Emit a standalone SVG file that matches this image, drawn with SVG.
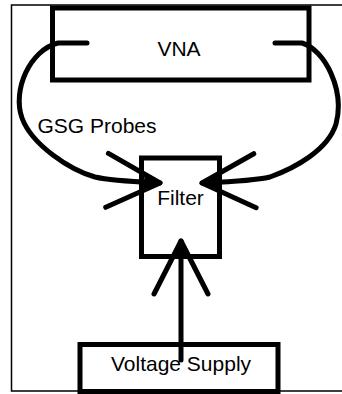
<svg xmlns="http://www.w3.org/2000/svg" width="342" height="394" viewBox="0 0 342 394">
<style>
.box{fill:#fff;stroke:#000;stroke-width:5}
.lbl{font-family:"Liberation Sans",Arial,sans-serif;font-size:21px;fill:#000;text-anchor:middle}
.conn{fill:none;stroke:#000;stroke-width:5;stroke-linecap:round;stroke-linejoin:round}
</style>
<defs>
<marker id="arr" markerUnits="userSpaceOnUse" orient="auto" refX="0" refY="0" markerWidth="80" markerHeight="80" viewBox="-70 -40 80 80" overflow="visible">
<path d="M-53,-27 L0,0 L-53,27" fill="none" stroke="#000" stroke-width="5" stroke-linecap="round" stroke-linejoin="round"/>
<path d="M2,0 L-16,-7 L-16,7 Z" fill="#000"/>
</marker>
</defs>
<rect x="11.5" y="5" width="332" height="386" fill="#fff" stroke="#000" stroke-width="1.5"/>
<g id="vna">
<rect class="box" x="52.5" y="8" width="256.5" height="72"/>
<text class="lbl" x="179" y="56">VNA</text>
</g>
<g id="filter">
<rect class="box" x="141.5" y="158" width="78" height="98.5"/>
<text class="lbl" x="180.5" y="205">Filter</text>
</g>
<g id="supply">
<rect class="box" x="80" y="344.5" width="198" height="47"/>
</g>
<g id="connectors">
<path class="conn" d="M87,43 L58,43 C30,50 12,90 22,118 C32,145 70,170 95,177 C112,181 140,182 160,183" marker-end="url(#arr)"/>
<path class="conn" d="M275,43 L302,43 C325,50 345,90 336,124 C328,150 295,168 270,177 C253,181 225,182 202,183" marker-end="url(#arr)"/>
<path class="conn" d="M181,360 L181,241" marker-end="url(#arr)"/>
</g>
<text class="lbl" x="181" y="371">Voltage Supply</text>
<text class="lbl" x="97" y="133">GSG Probes</text>
</svg>
